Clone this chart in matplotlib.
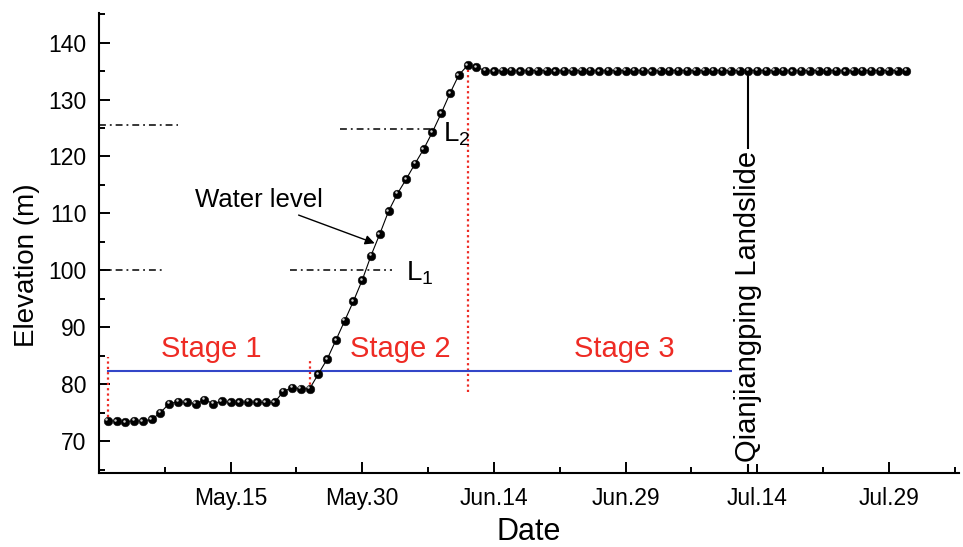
import matplotlib
matplotlib.use('Agg')
import matplotlib.pyplot as plt
import matplotlib.dates as mdates
import matplotlib.transforms as mtrans
import pandas as pd

plt.rcParams['font.family'] = ['Liberation Sans', 'DejaVu Sans']

# ---------------- data ----------------
dates = pd.date_range('2003-05-01', '2003-07-31', freq='D')
levels = [73.6, 73.5, 73.35, 73.6, 73.5, 73.8, 75.0, 76.6, 76.9, 76.8,
          76.6, 77.3, 76.6, 77.0, 76.8, 76.8, 76.9, 76.8, 76.8, 76.8,
          78.7, 79.4, 79.2, 79.2, 81.8, 84.4, 87.75, 91.15, 94.6, 98.3,
          102.6, 106.4, 110.4, 113.45, 116.0, 118.7, 121.3, 124.3, 127.6, 131.1,
          134.3, 136.0, 135.7, 135.1, 135.0, 135.1, 135.1, 135.0, 135.1, 135.1,
          135.1, 135.0, 135.1, 135.1, 135.1, 135.1, 135.0, 135.1, 135.1, 135.1,
          135.1, 135.1, 135.0, 135.1, 135.1, 135.1, 135.1, 135.1, 135.1, 135.1,
          135.1, 135.1, 135.1, 135.1, 135.1, 135.1, 135.1, 135.1, 135.0, 135.1,
          135.1, 135.1, 135.1, 135.1, 135.0, 135.1, 135.1, 135.1, 135.1, 135.1,
          135.1, 135.1]

tick_dates = ['2003-05-15', '2003-05-30', '2003-06-14', '2003-06-29', '2003-07-14', '2003-07-29']
tick_labels = ['May.15', 'May.30', 'Jun.14', 'Jun.29', 'Jul.14', 'Jul.29']
minor_dates = ['2003-05-07 12:00', '2003-05-22 12:00', '2003-06-06 12:00',
               '2003-06-21 12:00', '2003-07-06 12:00', '2003-07-21 12:00', '2003-08-05 12:00']
y_ticks = [70, 80, 90, 100, 110, 120, 130, 140]
y_minor = [65, 75, 85, 95, 105, 115, 125, 135, 145]
x_range = ['2003-04-30', '2003-08-06']
y_range = [64.4, 145.2]

# stage boundaries (red dotted): date, bottom, top
stage_marks = [('2003-05-01', 74.3, 84.8), ('2003-05-24', 79.0, 84.5), ('2003-06-11', 78.6, 136.0)]
stage_names = ['Stage 1', 'Stage 2', 'Stage 3']
stage_label_dates = ['2003-05-12 18:00', '2003-06-03 07:00', '2003-06-28 22:00']
stage_label_level = 86.2
# blue reference line
blue_level = 82.4
blue_span = ['2003-05-01', '2003-07-11']
# dash-dot level lines: start, end, level
level_lines = [('2003-04-30', '2003-05-09', 125.5),
               ('2003-04-30', '2003-05-07 08:00', 100.0),
               ('2003-05-21 18:00', '2003-06-02 10:00', 100.0),
               ('2003-05-27 11:00', '2003-06-07 02:00', 124.8)]
L_labels = [('2003-06-04 00:00', 99.6, r'L$_\mathregular{1}$'),
            ('2003-06-08 05:00', 123.9, r'L$_\mathregular{2}$')]
landslide_date = '2003-07-13'
landslide_level = 135.1


def dn(s):
    return mdates.date2num(pd.Timestamp(s))


# ---------------- figure ----------------
fig = plt.figure(figsize=(9.63, 5.47), dpi=100)
ax = fig.add_axes([99/963, 1-473/547, (959-99)/963, (473-13)/547])

x = mdates.date2num(dates)

# connecting line
ax.plot(x, levels, color='black', lw=0.8, zorder=3)
# balls
ax.plot(x, levels, ls='none', marker='o', ms=6.2, mfc='black', mec='#111111', mew=0.4, zorder=4)
hl = mtrans.offset_copy(ax.transData, fig=fig, x=-1.0, y=1.0, units='points')
ax.plot(x, levels, ls='none', marker='o', ms=1.8, mfc='#cfcfcf', mec='none', transform=hl, zorder=5)

red = '#ee2b24'
for d, lo, hi in stage_marks:
    ax.plot([dn(d), dn(d)], [lo, hi], color=red, lw=1.6, ls=(0, (1.0, 1.4)), zorder=2)

ax.plot([dn(blue_span[0]), dn(blue_span[1])], [blue_level, blue_level],
        color='#3346c8', lw=1.5, zorder=2)

for s, e, lv in level_lines:
    ax.plot([dn(s), dn(e)], [lv, lv], color='black', lw=1.1,
            ls=(0, (4.5, 2.6, 1.2, 2.6)), zorder=2)

for d, lv, t in L_labels:
    ax.text(dn(d), lv, t, fontsize=20, ha='left', va='center')

for d, name in zip(stage_label_dates, stage_names):
    ax.text(dn(d), stage_label_level, name, color=red,
            fontsize=21, ha='center', va='center')

# landslide marker
ld = dn(landslide_date)
ax.plot([ld, ld], [y_range[0], landslide_level], color='black', lw=1.5, zorder=3)
ax.text(ld, 93.6, 'Qianjiangping Landslide', rotation=90, fontsize=21, ha='center', va='center',
        bbox=dict(facecolor='white', edgecolor='none', pad=1.5), zorder=4)

# water level annotation
ax.annotate('Water level', xy=(dn('2003-05-31 10:00'), 104.75),
            xytext=(dn('2003-05-10 22:00'), 112.3),
            fontsize=18.5, ha='left', va='center',
            arrowprops=dict(arrowstyle='-|>', color='black', lw=1.0, mutation_scale=14,
                            shrinkA=0, shrinkB=0),
            zorder=5)

ax.set_xlim(dn(x_range[0]), dn(x_range[1]))
ax.set_ylim(y_range)
ax.set_xticks([dn(d) for d in tick_dates])
ax.set_xticklabels(tick_labels)
ax.set_xticks([dn(d) for d in minor_dates], minor=True)
ax.set_yticks(y_ticks)
ax.set_yticks(y_minor, minor=True)

for s in ['top', 'right']:
    ax.spines[s].set_visible(False)
for s in ['left', 'bottom']:
    ax.spines[s].set_linewidth(1.5)

ax.tick_params(which='major', direction='in', length=8, width=1.4, labelsize=16.5, pad=9)
ax.tick_params(which='minor', direction='in', length=4.5, width=1.4)
ax.tick_params(axis='x', which='major', pad=10)

ax.set_xlabel('Date', fontsize=22)
ax.set_ylabel('Elevation (m)', fontsize=20)
ax.xaxis.set_label_coords(0.5, -0.095)
ax.yaxis.set_label_coords(-0.069, 0.452)

fig.savefig('out.png', dpi=100)
